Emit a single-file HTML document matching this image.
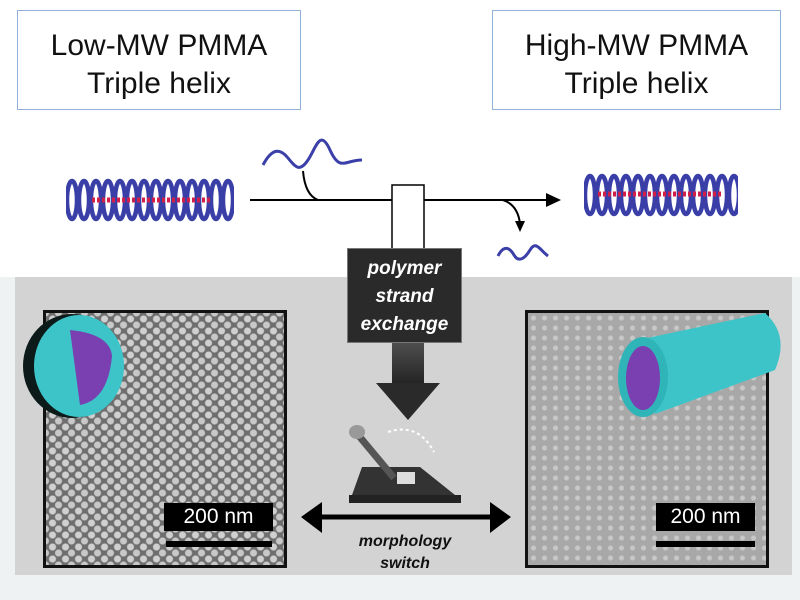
<!DOCTYPE html>
<html><head><style>
body{margin:0;width:800px;height:600px;background:#fff;position:relative;overflow:hidden;font-family:"Liberation Sans",sans-serif}
.box{position:absolute;border:1.5px solid #8fb0d8;background:#fff;text-align:center;font-size:30px;line-height:38px;color:#111;padding-top:16px;box-sizing:border-box}
.tem{position:absolute;border:3px solid #111;box-sizing:border-box;overflow:hidden}
.dots{background-image:radial-gradient(circle,#d0d0d0 0 3px,rgba(0,0,0,0) 4px),radial-gradient(circle,#c8c8c8 0 3px,rgba(0,0,0,0) 4px);background-size:13px 12px,13px 12px;background-position:0 0,6px 6px;background-color:#6e6e6e}
.worm{background-color:#a8a8a8;background-image:radial-gradient(circle,#c8c8c8 0 2px,rgba(0,0,0,0) 3px);background-size:11px 10px}
.sb{position:absolute;background:#000;color:#fff;font-size:21px;text-align:center;line-height:28px}
.sl{position:absolute;background:#000;height:6px}
</style></head><body>
<div style="position:absolute;left:0;top:277px;width:800px;height:323px;background:#eef2f2"></div>
<div style="position:absolute;left:15px;top:277px;width:777px;height:298px;background:#d3d3d3"></div>
<div class="box" style="left:17px;top:10px;width:284px;height:100px">Low-MW PMMA<br>Triple helix</div>
<div class="box" style="left:492px;top:10px;width:289px;height:100px">High-MW PMMA<br>Triple helix</div>
<svg width="800" height="600" style="position:absolute;left:0;top:0">
<defs>
<linearGradient id="g" x1="0" y1="0" x2="0" y2="1"><stop offset="0" stop-color="#f4f4f4"/><stop offset="1" stop-color="#222"/></linearGradient>
<pattern id="coil" x="0" y="0" width="12" height="44" patternUnits="userSpaceOnUse"><ellipse cx="6" cy="22" rx="5" ry="19" fill="none" stroke="#3a3fa8" stroke-width="4.5"/></pattern>
</defs>
<g transform="translate(66,178)"><rect width="168" height="44" fill="url(#coil)"/></g>
<line x1="92" y1="200" x2="212" y2="200" stroke="#d0204a" stroke-width="5" stroke-dasharray="3 2"/>
<g transform="translate(584,173)"><rect width="154" height="44" fill="url(#coil)"/></g>
<line x1="598" y1="194" x2="722" y2="194" stroke="#d0204a" stroke-width="5" stroke-dasharray="3 2"/>
<path d="M250 200 H550" stroke="#000" stroke-width="2"/>
<path d="M561 200 L546 193 L546 207Z"/>
<path d="M303 171 Q305 195 318 200" fill="none" stroke="#000" stroke-width="2"/>
<path d="M503 200 Q518 205 520 224" fill="none" stroke="#000" stroke-width="2"/>
<path d="M520 232 L515 221 L525 221Z"/>
<path d="M263 165 C272 148 280 148 288 158 S300 172 308 160 S320 128 330 150 S345 160 362 160" fill="none" stroke="#3b3fa8" stroke-width="3"/>
<path d="M498 256 C504 244 510 248 514 255 S524 260 530 250 S540 250 548 256" fill="none" stroke="#3b3fa8" stroke-width="3"/>
<rect x="392" y="185" width="32" height="200" fill="url(#g)"/>
<rect x="392" y="185" width="32" height="65" fill="#fff" stroke="#000" stroke-width="1.5"/>
<path d="M376 383 H440 L408 420Z" fill="#2a2a2a"/>
<path d="M315 517 H495" stroke="#000" stroke-width="5"/>
<path d="M301 517 L322 502 L322 533Z M511 517 L490 502 L490 533Z"/>
<path d="M362 467 L420 467 L455 495 L352 495Z" fill="#333"/>
<rect x="349" y="495" width="112" height="8" fill="#222"/>
<rect x="397" y="472" width="18" height="12" fill="#ddd"/>
<line x1="359" y1="436" x2="394" y2="478" stroke="#555" stroke-width="7"/>
<ellipse cx="357" cy="432" rx="8" ry="7" fill="#999"/>
<path d="M388 432 Q418 422 434 452" fill="none" stroke="#fff" stroke-width="2" stroke-dasharray="3 3"/>
</svg>
<div style="position:absolute;left:347px;top:248px;width:115px;height:95px;background:#2a2a2a;border:1px solid #777;color:#fff;font-style:italic;font-weight:bold;font-size:19px;line-height:28px;text-align:center;padding-top:6px;box-sizing:border-box">polymer<br>strand<br>exchange</div>
<div style="position:absolute;left:320px;top:531px;width:170px;text-align:center;font-style:italic;font-weight:bold;font-size:16px;line-height:22px;color:#111">morphology<br>switch</div>
<div class="tem dots" style="left:43px;top:310px;width:244px;height:258px"></div>
<div class="tem worm" style="left:525px;top:310px;width:244px;height:258px"></div>
<div class="sb" style="left:164px;top:503px;width:109px">200 nm</div>
<div class="sl" style="left:166px;top:541px;width:106px"></div>
<div class="sb" style="left:656px;top:503px;width:99px">200 nm</div>
<div class="sl" style="left:656px;top:541px;width:99px"></div>
<svg width="800" height="600" style="position:absolute;left:0;top:0">
<ellipse cx="72" cy="366" rx="49" ry="52" fill="#0c1a1a"/>
<ellipse cx="79" cy="366" rx="45" ry="51" fill="#3cc4c8"/>
<path d="M70 330 Q110 334 112 356 Q108 400 80 405 Z" fill="#7a3fb0"/>
<path d="M638 340 L765 313 Q790 335 775 370 L655 414 Z" fill="#3cc4c8"/>
<ellipse cx="643" cy="377" rx="25" ry="40" fill="#2fb5b8"/>
<ellipse cx="643" cy="378" rx="17" ry="32" fill="#7a3fb0"/>
</svg>
</body></html>
